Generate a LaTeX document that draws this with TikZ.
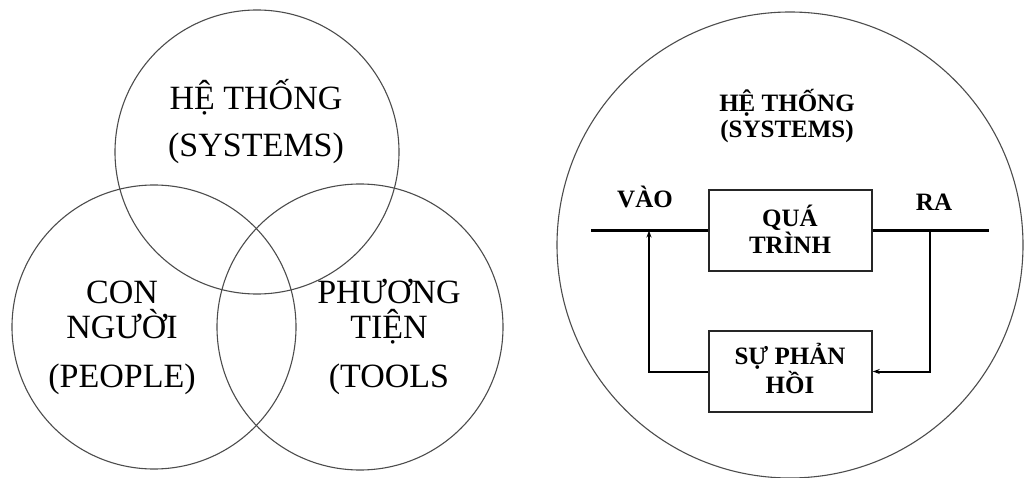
\documentclass[tikz,border=0pt]{standalone}
\usepackage{fontspec}
\setmainfont{Liberation Serif}
\usetikzlibrary{arrows.meta}
\begin{document}
\begin{tikzpicture}[x=1pt,y=-1pt,
  ring/.style={circle, draw=black!70, line width=1.1pt, inner sep=0pt},
  bigtext/.style={anchor=base, inner sep=0pt, font=\fontsize{34}{40}\selectfont},
  smalltext/.style={anchor=base, inner sep=0pt, font=\fontsize{25}{28}\selectfont\bfseries},
  blockbox/.style={draw=black!85, line width=1.5pt, minimum width=163pt, minimum height=81pt, inner sep=0pt},
  signal/.style={line width=2.3pt},
  loopline/.style={line width=2pt},
  tip/.style={-{Stealth[length=7pt,width=5pt]}}
]
\useasboundingbox (0,0) rectangle (1025,478);

% three overlapping rings
\node[ring, minimum size=284pt] (sys) at (257,152) {};
\node[ring, minimum size=284pt] (ppl) at (154,327) {};
\node[ring, minimum size=286pt] (tls) at (360,327) {};

\node[bigtext] (t1) at (256,110) {HỆ THỐNG};
\node[bigtext] (t2) at (256,157) {(SYSTEMS)};
\node[bigtext] (p1) at (122,303) {CON};
\node[bigtext] (p2) at (122,338) {NGƯỜI};
\node[bigtext] (p3) at (122,387) {(PEOPLE)};
\node[bigtext] (m1) at (389,303) {PHƯƠNG};
\node[bigtext] (m2) at (389,338) {TIỆN};
\node[bigtext] (m3) at (389,387) {(TOOLS};

% system with feedback loop
\node[ring, minimum size=466pt] (whole) at (790,245) {};
\node[smalltext] (h1) at (787,112) {HỆ THỐNG};
\node[smalltext] (h2) at (787,138) {(SYSTEMS)};

\node[blockbox] (proc) at (790.5,230.5) {};
\node[smalltext] (q1) at (790,227) {QUÁ};
\node[smalltext] (q2) at (790,254) {TRÌNH};

\node[blockbox] (fb) at (790.5,371.5) {};
\node[smalltext] (f1) at (790,364) {SỰ PHẢN};
\node[smalltext] (f2) at (790,393) {HỒI};

\node[smalltext] (vin) at (645,208) {VÀO};
\node[smalltext] (vout) at (934,211) {RA};

\coordinate (inl) at (591,230.5);
\coordinate (outr) at (989,230.5);
\coordinate (fbl) at (649,230.5);
\coordinate (fbr) at (930,230.5);

\draw[signal] (inl) -- (proc.west);
\draw[signal] (proc.east) -- (outr);
\draw[loopline, tip] (fb.west) -| (fbl);
\draw[loopline, tip] (fbr) |- (fb.east);
\end{tikzpicture}
\end{document}
